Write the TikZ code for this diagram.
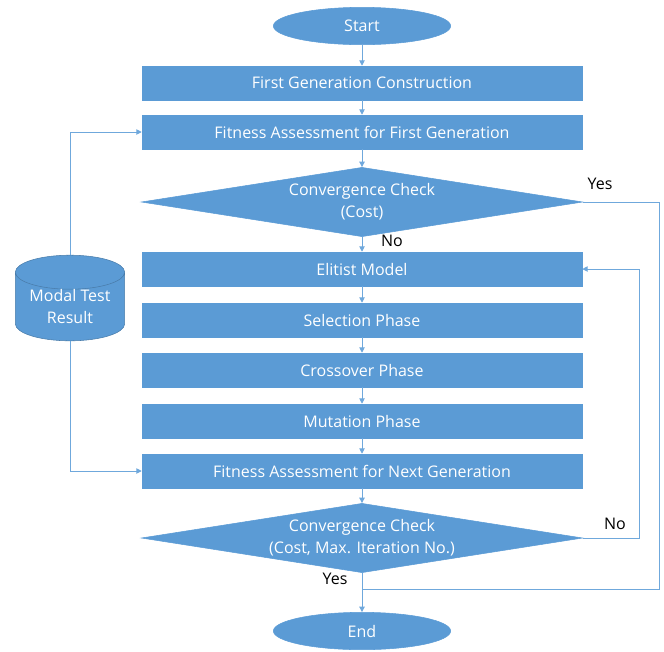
\documentclass[tikz,border=0pt]{standalone}
\usepackage{fontspec}
\setmainfont{Open Sans}
\usetikzlibrary{shapes.geometric,arrows.meta}
\definecolor{boxblue}{HTML}{5B9BD5}
\definecolor{lineblue}{HTML}{6FA8DC}
\begin{document}
\begin{tikzpicture}
      [x=.75pt,y=-.75pt
      ,font=\fontsize{12}{16.5}\selectfont
      ,box/.style={rectangle,fill=boxblue,draw=boxblue,text=white,minimum width=330pt,minimum height=25.5pt,inner sep=0pt}
      ,term/.style={ellipse,fill=boxblue,draw=boxblue,text=white,minimum width=133pt,minimum height=28pt,inner sep=0pt}
      ,check/.style={diamond,fill=boxblue,draw=boxblue,text=white,align=center,aspect=6.3,minimum width=331pt,minimum height=52pt,inner sep=0pt}
      ,store/.style={cylinder,shape border rotate=90,aspect=0.42,fill=boxblue,draw=boxblue!80!black,text=white,align=center,minimum width=82pt,minimum height=57pt,inner sep=0pt,anchor=shape center}
      ,lin/.style={draw=lineblue,line width=.7pt}
      ,arr/.style={lin,-{Triangle[length=4pt,width=4pt]}}
      ,lab/.style={text=black}
      ]
        \useasboundingbox (0,0) rectangle (664,651);
        \node[term] (start) at (362,26) {Start};
        \node[box] (firstgen) at (362,83) {First Generation Construction};
        \node[box] (fitfirst) at (362,132) {Fitness Assessment for First Generation};
        \node[check] (convone) at (362,202) {Convergence Check\\(Cost)};
        \node[box] (elitist) at (362,269) {Elitist Model};
        \node[box] (selection) at (362,320) {Selection Phase};
        \node[box] (crossover) at (362,370) {Crossover Phase};
        \node[box] (mutation) at (362,421) {Mutation Phase};
        \node[box] (fitnext) at (362,471) {Fitness Assessment for Next Generation};
        \node[check] (convtwo) at (362,538) {Convergence Check\\(Cost, Max. Iteration No.)};
        \node[term] (finish) at (362,631) {End};
        \node[store] (modal) at (70,298) {Modal Test\\Result};
        \coordinate (yesright) at (659,202);
        \coordinate (noright) at (639,538);
        \coordinate (merge) at (362,589);
        \draw[arr] (start) -- (firstgen);
        \draw[arr] (firstgen) -- (fitfirst);
        \draw[arr] (fitfirst) -- (convone);
        \draw[arr] (convone) -- (elitist);
        \draw[arr] (elitist) -- (selection);
        \draw[arr] (selection) -- (crossover);
        \draw[arr] (crossover) -- (mutation);
        \draw[arr] (mutation) -- (fitnext);
        \draw[arr] (fitnext) -- (convtwo);
        \draw[arr] (convtwo) -- (finish);
        \draw[lin] (convone.east) -- (yesright) |- (merge);
        \draw[arr] (convtwo.east) -- (noright) |- (elitist.east);
        \draw[arr] (modal.north) |- (fitfirst.west);
        \draw[arr] (modal.south) |- (fitnext.west);
        \node[lab] (yesone) at (600,184) {Yes};
        \node[lab] (noone) at (392,241) {No};
        \node[lab] (notwo) at (615,524) {No};
        \node[lab] (yestwo) at (335,579) {Yes};
      \end{tikzpicture}
\end{document}
